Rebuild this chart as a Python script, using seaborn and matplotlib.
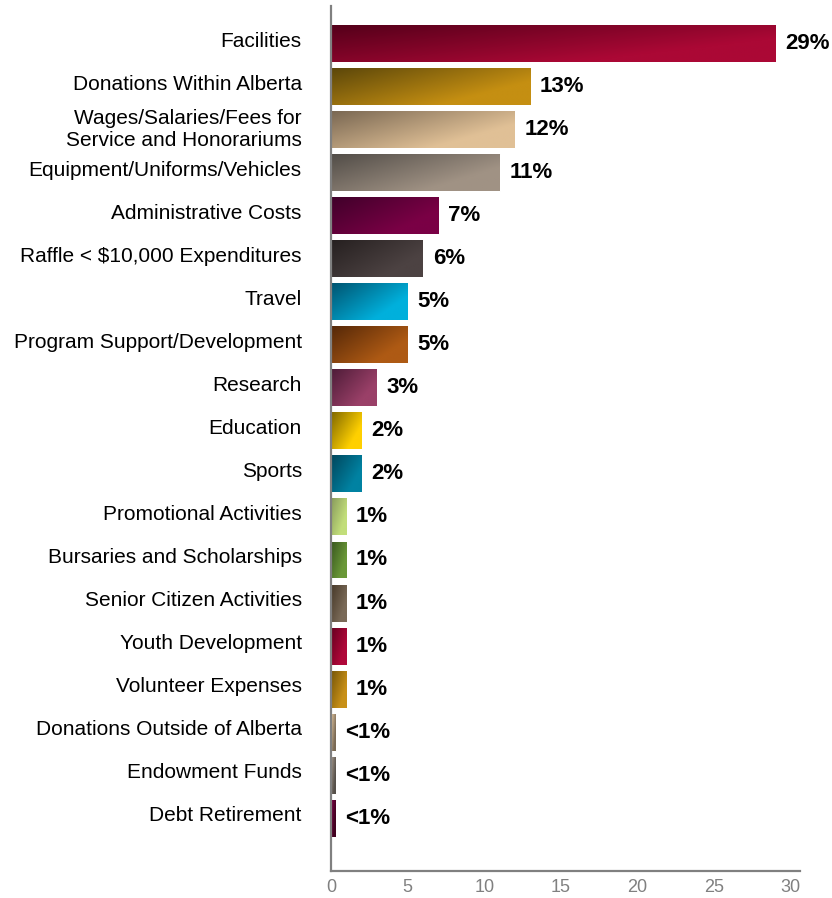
import numpy as np
import matplotlib
matplotlib.use('Agg')
import matplotlib.pyplot as plt
import matplotlib.colors as mcolors
import matplotlib.transforms as mtransforms
import seaborn as sns

# 지출 항목별 비율
categories = [
    'Facilities', 'Donations Within Alberta',
    'Wages/Salaries/Fees for\nService and Honorariums',
    'Equipment/Uniforms/Vehicles', 'Administrative Costs',
    'Raffle < $10,000 Expenditures', 'Travel',
    'Program Support/Development', 'Research', 'Education', 'Sports',
    'Promotional Activities', 'Bursaries and Scholarships',
    'Senior Citizen Activities', 'Youth Development',
    'Volunteer Expenses', 'Donations Outside of Alberta',
    'Endowment Funds', 'Debt Retirement',
]
values = [29, 13, 12, 11, 7, 6, 5, 5, 3, 2, 2, 1, 1, 1, 1, 1, 0.3, 0.3, 0.3]
value_labels = ['29%', '13%', '12%', '11%', '7%', '6%', '5%', '5%', '3%', '2%',
                '2%', '1%', '1%', '1%', '1%', '1%', '<1%', '<1%', '<1%']
x_ticks = [0, 5, 10, 15, 20, 25, 30]

# 그라데이션 시작색(왼쪽 위) / 끝색
start_colors = ['#55001a', '#5c470a', '#7a6853', '#524d48', '#40002a',
                '#262020', '#005470', '#552808', '#4e1c38', '#806800',
                '#00465c', '#889a5c', '#38561e', '#463828', '#66001f',
                '#765608', '#e6c8a0', '#a89a8c', '#7c0046']
end_colors = ['#ab0835', '#c58f12', '#e0c096', '#a09284', '#7a0045',
              '#4c4242', '#00b0dc', '#ae5a14', '#9a4068', '#ffd000',
              '#0082a2', '#c2de7a', '#6a9838', '#7a6a58', '#b0083a',
              '#c89018', '#7a6a55', '#55504a', '#40001f']

sns.set_style('white')
plt.rcParams['font.family'] = ['Liberation Sans', 'DejaVu Sans']

fig = plt.figure(figsize=(8.32, 8.98), dpi=100)
ax = fig.add_axes([0.3978, 0.0301, 0.5637, 0.9632])

sns.barplot(x=values, y=categories, hue=categories, palette=end_colors,
            legend=False, width=0.86, orient='h', saturation=1, ax=ax)

# 막대마다 대각선 그라데이션 덮기
H, W = 40, 80
u = np.linspace(0, 1, W)[None, :]
v = np.linspace(0, 1, H)[:, None]
t = np.clip((u + 0.7 * v) / 1.25, 0, 1)
for i, patch in enumerate(ax.patches[:len(values)]):
    c0 = np.array(mcolors.to_rgb(start_colors[i]))
    c1 = np.array(mcolors.to_rgb(end_colors[i]))
    img = c0[None, None, :] + (c1 - c0)[None, None, :] * t[:, :, None]
    x0, y0 = patch.get_x(), patch.get_y()
    w, h = patch.get_width(), patch.get_height()
    im = ax.imshow(img, extent=(x0, x0 + w, y0 + h, y0), aspect='auto',
                   zorder=patch.get_zorder() + 0.5, interpolation='bilinear')
    im.set_clip_path(patch)
    ax.annotate(value_labels[i], xy=(x0 + w, y0 + h / 2), xytext=(7, 0),
                textcoords='offset points', va='center', ha='left',
                fontsize=16, fontweight='bold', color='black')

ax.set_xlim(0, 30.6)
ax.set_ylim(19.23, -0.88)
ax.set_xticks(x_ticks)
ax.set_xticklabels([str(x) for x in x_ticks])
ax.set_xlabel('')
ax.set_ylabel('')

for side in ['top', 'right']:
    ax.spines[side].set_visible(False)
for side in ['left', 'bottom']:
    ax.spines[side].set_color('#808080')
    ax.spines[side].set_linewidth(1.6)

ax.tick_params(axis='x', direction='in', length=16, width=1.6, color='#808080',
               labelcolor='#808080', labelsize=13, pad=6)
ax.tick_params(axis='y', length=0, pad=21, labelsize=15, labelcolor='black')
shift = mtransforms.ScaledTranslation(0, 3 / 72, fig.dpi_scale_trans)
for lbl in ax.get_yticklabels():
    lbl.set_linespacing(1.2)
    lbl.set_transform(lbl.get_transform() + shift)

plt.savefig('out.png', dpi=100)
plt.close()
